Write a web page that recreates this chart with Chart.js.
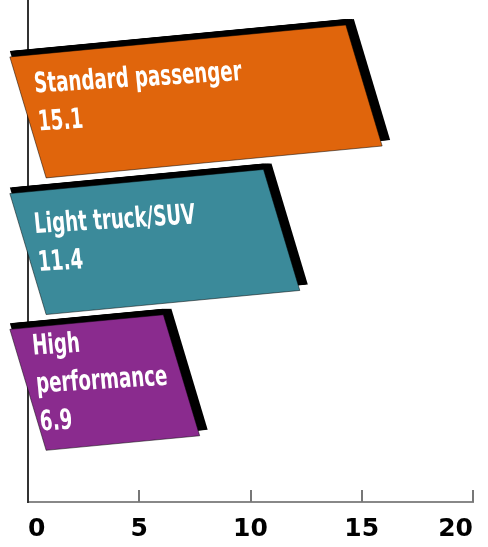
<!DOCTYPE html>
<html>
<head>
<meta charset="utf-8">
<script src="https://cdn.jsdelivr.net/npm/chart.js@4/dist/chart.umd.min.js"></script>
<style>
  html, body { margin: 0; padding: 0; background: #fff; }
  canvas { display: block; }
</style>
</head>
<body>
<canvas id="chart" width="488" height="547"></canvas>
<script>
// Vehicle classes, top to bottom
const categories = ['Standard passenger', 'Light truck/SUV', 'High performance'];
// How each name is broken over lines inside its bar
const nameLines = [['Standard passenger'], ['Light truck/SUV'], ['High', 'performance']];
const values = [15.1, 11.4, 6.9];
const barColors = ['#e0650c', '#3b8a9a', '#8a2b8e'];
const xTickValues = [0, 5, 10, 15, 20];

const SHEAR = 0.3;      // sideways lean of the bar ends
const TILT = -0.095;    // upward tilt of the long edges
const TEXT_SLANT = 0.1;
const TEXT_TILT = -0.06;
const CONDENSE = 0.65;  // squeeze the label font horizontally

// Slanted boxes with a black drop edge, names and values written inside
const slantedBars = {
  id: 'slantedBars',
  beforeDatasetsDraw(chart) {
    const ctx = chart.ctx;
    const meta = chart.getDatasetMeta(0);

    meta.data.forEach((bar, i) => {
      const { x, y, base, height } = bar.getProps(['x', 'y', 'base', 'height'], true);
      const mid = (base + x) / 2;
      const h = height / 2;
      const pt = (u, v) => [u + SHEAR * v, y + v + TILT * (u - mid)];
      const corners = [pt(base, -h), pt(x, -h), pt(x, h), pt(base, h)];

      const shape = (dx, dy) => {
        ctx.beginPath();
        corners.forEach(([cx, cy], k) => {
          if (k === 0) ctx.moveTo(cx + dx, cy + dy);
          else ctx.lineTo(cx + dx, cy + dy);
        });
        ctx.closePath();
      };

      ctx.save();
      ctx.fillStyle = '#000';
      [0, 2, 4, 6, 8].forEach(dx => { shape(dx, -6); ctx.fill(); });
      shape(0, 0);
      ctx.fillStyle = barColors[i];
      ctx.fill();
      ctx.lineWidth = 1;
      ctx.strokeStyle = 'rgba(0,0,0,0.5)';
      ctx.stroke();
      ctx.restore();

      // name lines plus the value, centred on the bar
      const lines = nameLines[i].concat([values[i].toFixed(1)]);
      ctx.save();
      ctx.translate(base + 8, y);
      ctx.transform(1, TEXT_TILT, TEXT_SLANT, 1, 0, 0);
      ctx.scale(CONDENSE, 1);
      ctx.fillStyle = '#fff';
      ctx.font = 'bold 28px "DejaVu Sans", sans-serif';
      ctx.textBaseline = 'alphabetic';
      ctx.textAlign = 'left';
      lines.forEach((line, k) => {
        const v = (k - (lines.length - 1) / 2) * 38 + 10;
        ctx.fillText(line, 0, v);
      });
      ctx.restore();
    });
    return false;
  },
  afterDraw(chart) {
    // short tick marks standing up from the value axis
    const ctx = chart.ctx;
    const xs = chart.scales.x;
    const bottom = chart.chartArea.bottom;
    ctx.save();
    ctx.strokeStyle = '#777';
    ctx.lineWidth = 2;
    xs.ticks.forEach(t => {
      if (t.value === 0) return;
      const px = Math.round(xs.getPixelForValue(t.value));
      ctx.beginPath();
      ctx.moveTo(px, bottom);
      ctx.lineTo(px, bottom - 12);
      ctx.stroke();
    });
    ctx.restore();
  }
};

const ctx = document.getElementById('chart').getContext('2d');
new Chart(ctx, {
  type: 'bar',
  data: {
    labels: categories,
    datasets: [{
      label: 'Vehicles',
      data: values.map((v, i) => ({ x: v, y: i })),
      backgroundColor: barColors,
      barThickness: 121
    }]
  },
  options: {
    indexAxis: 'y',
    responsive: false,
    animation: false,
    layout: { padding: { left: 28, right: 0, top: 0, bottom: 0 } },
    plugins: {
      legend: { display: false },
      tooltip: { enabled: false }
    },
    scales: {
      x: {
        type: 'linear',
        min: 0,
        max: 20,
        afterBuildTicks: scale => {
          scale.ticks = xTickValues.map(v => ({ value: v }));
        },
        afterFit: scale => {
          scale.height = 45;
          scale.paddingLeft = 0;
          scale.paddingRight = 15;
        },
        grid: { display: false, drawTicks: false },
        border: { display: true, color: '#888', width: 2 },
        ticks: {
          align: 'inner',
          padding: 12,
          color: '#000',
          font: { family: '"DejaVu Sans", sans-serif', size: 25, weight: 'bold' }
        }
      },
      y: {
        type: 'linear',
        reverse: true,
        offset: false,
        bounds: 'data',
        min: -0.722,
        max: 2.85,
        afterFit: scale => {
          scale.paddingTop = 0;
          scale.paddingBottom = 0;
        },
        grid: { display: false, drawTicks: false, offset: false },
        border: { display: true, color: '#333', width: 2 },
        ticks: { display: false }
      }
    }
  },
  plugins: [slantedBars]
});
</script>
</body>
</html>
